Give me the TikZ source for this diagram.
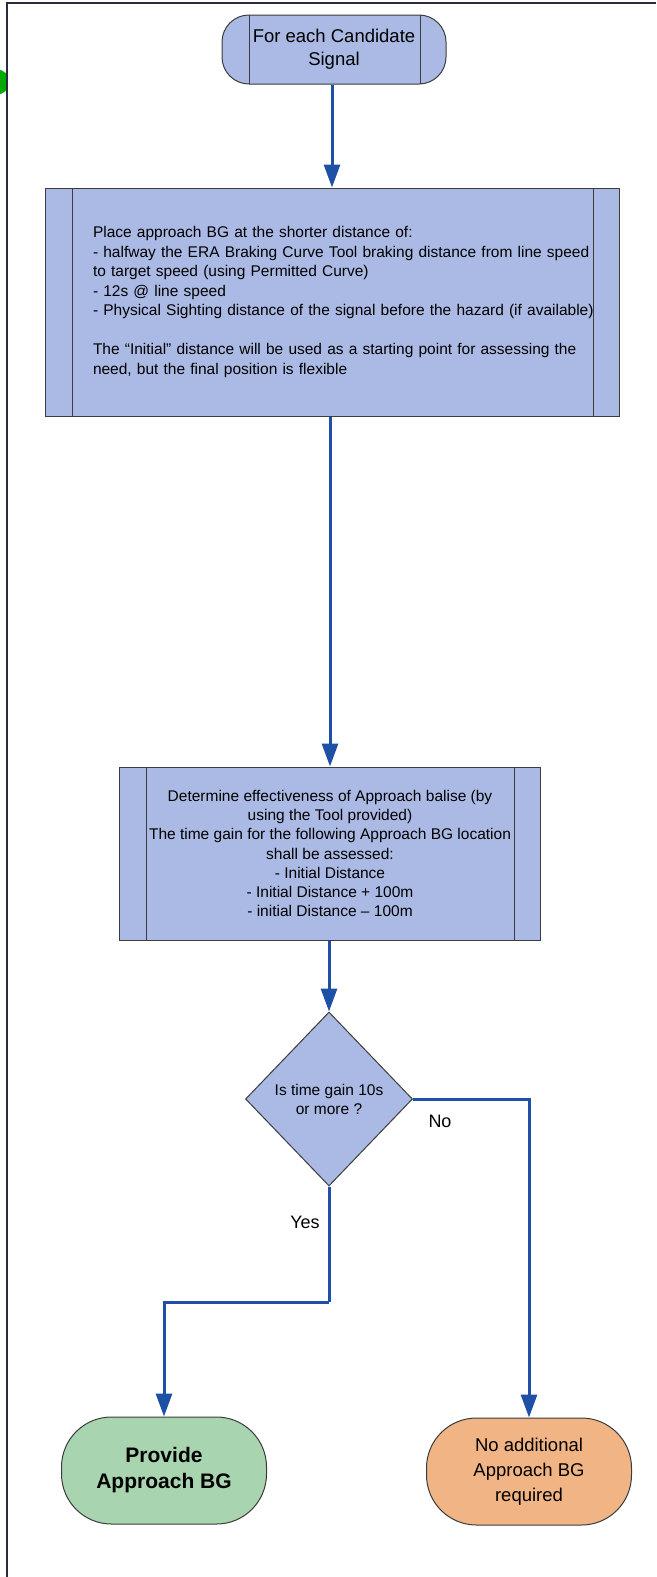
\documentclass[tikz,border=0pt]{standalone}
\usepackage{fontspec}
\setmainfont{Liberation Sans}
\usetikzlibrary{arrows.meta,shapes.geometric}
\definecolor{boxblue}{RGB}{170,186,228}
\definecolor{termgreen}{RGB}{168,212,176}
\definecolor{termorange}{RGB}{241,180,132}
\definecolor{arrowblue}{RGB}{30,80,165}
\definecolor{framecol}{RGB}{40,44,62}
\definecolor{edgecol}{RGB}{60,60,60}
\definecolor{dotgreen}{RGB}{0,170,0}
\begin{document}
\begin{tikzpicture}[x=1pt,y=-1pt,
  procbox/.style={draw=edgecol, line width=1pt, fill=boxblue, inner sep=0pt,
    path picture={
      \draw[edgecol,line width=1pt]
        ([xshift=27pt]path picture bounding box.north west) -- ([xshift=27pt]path picture bounding box.south west)
        ([xshift=-26pt]path picture bounding box.north east) -- ([xshift=-26pt]path picture bounding box.south east);}},
  decbox/.style={diamond, draw=edgecol, line width=1pt, fill=boxblue, inner sep=0pt, align=center,
    minimum width=167pt, minimum height=174pt, font=\fontsize{15.5pt}{19pt}\selectfont},
  termbox/.style={draw=edgecol, line width=1pt, rounded corners=50pt, inner sep=0pt, align=center,
    minimum width=205pt, minimum height=107pt},
  arr/.style={draw=arrowblue, line width=3pt, -{Triangle[length=23pt,width=16pt]}},
  conn/.style={draw=arrowblue, line width=3pt},
  lbl/.style={font=\fontsize{18pt}{21pt}\selectfont, inner sep=0pt}
]
\useasboundingbox (0,0) rectangle (656,1577);
\fill[white] (0,0) rectangle (656,1577);

% scan mark at left edge
\begin{scope}
  \clip (0,0) rectangle (7,1577);
  \fill[dotgreen] (-3,82) circle (12.5pt);
\end{scope}
% frame
\draw[framecol, line width=2.5pt] (7,1577) -- (7,3) -- (656,3);

% nodes
\node[procbox, rounded corners=27pt, minimum width=224pt, minimum height=69pt, align=center,
  font=\fontsize{18.5pt}{23pt}\selectfont] (start) at (334,49.5) {For each Candidate\\Signal};

\node[procbox, minimum width=574pt, minimum height=228pt, text width=478pt, align=left,
  font=\fontsize{15.5pt}{19.5pt}\selectfont] (place) at (332,302)
  {\mbox{Place approach BG at the shorter distance of:}\\
   \mbox{- halfway the ERA Braking Curve Tool braking distance from line speed}\\
   \mbox{to target speed (using Permitted Curve)}\\
   \mbox{- 12s @ line speed}\\
   \mbox{- Physical Sighting distance of the signal before the hazard (if available)}\\[19.5pt]
   \mbox{The “Initial” distance will be used as a starting point for assessing the}\\
   \mbox{need, but the final position is flexible}};

\node[procbox, minimum width=421pt, minimum height=173pt, align=center,
  font=\fontsize{15.5pt}{19.2pt}\selectfont] (determine) at (330,853.5)
  {Determine effectiveness of Approach balise (by\\
   using the Tool provided)\\
   The time gain for the following Approach BG location\\
   shall be assessed:\\
   - Initial Distance\\
   - Initial Distance + 100m\\
   - initial Distance – 100m};

\node[decbox] (decide) at (329,1099) {Is time gain 10s\\or more ?};

\node[termbox, fill=termgreen, font=\bfseries\fontsize{21pt}{26pt}\selectfont] (provide) at (164,1470.5)
  {Provide\\Approach BG};
\node[termbox, fill=termorange, minimum width=205pt, font=\fontsize{18.5pt}{25pt}\selectfont] (noadd) at (529,1471.5)
  {No additional\\Approach BG\\required};

\coordinate (yesbend) at (329,1302);

% connectors
\draw[arr] (start.south -| place.north) -- (place.north);
\draw[arr] (place.south -| determine.north) -- (determine.north);
\draw[arr] (determine.south -| decide.north) -- (decide.north);
\draw[arr] (decide.east) -| (noadd.north);
\draw[conn] (decide.south) -- (yesbend);
\draw[arr] (yesbend) -| (provide.north);

% labels
\node[lbl] (nolbl) at (440,1121) {No};
\node[lbl] (yeslbl) at (305,1222) {Yes};
\end{tikzpicture}
\end{document}
